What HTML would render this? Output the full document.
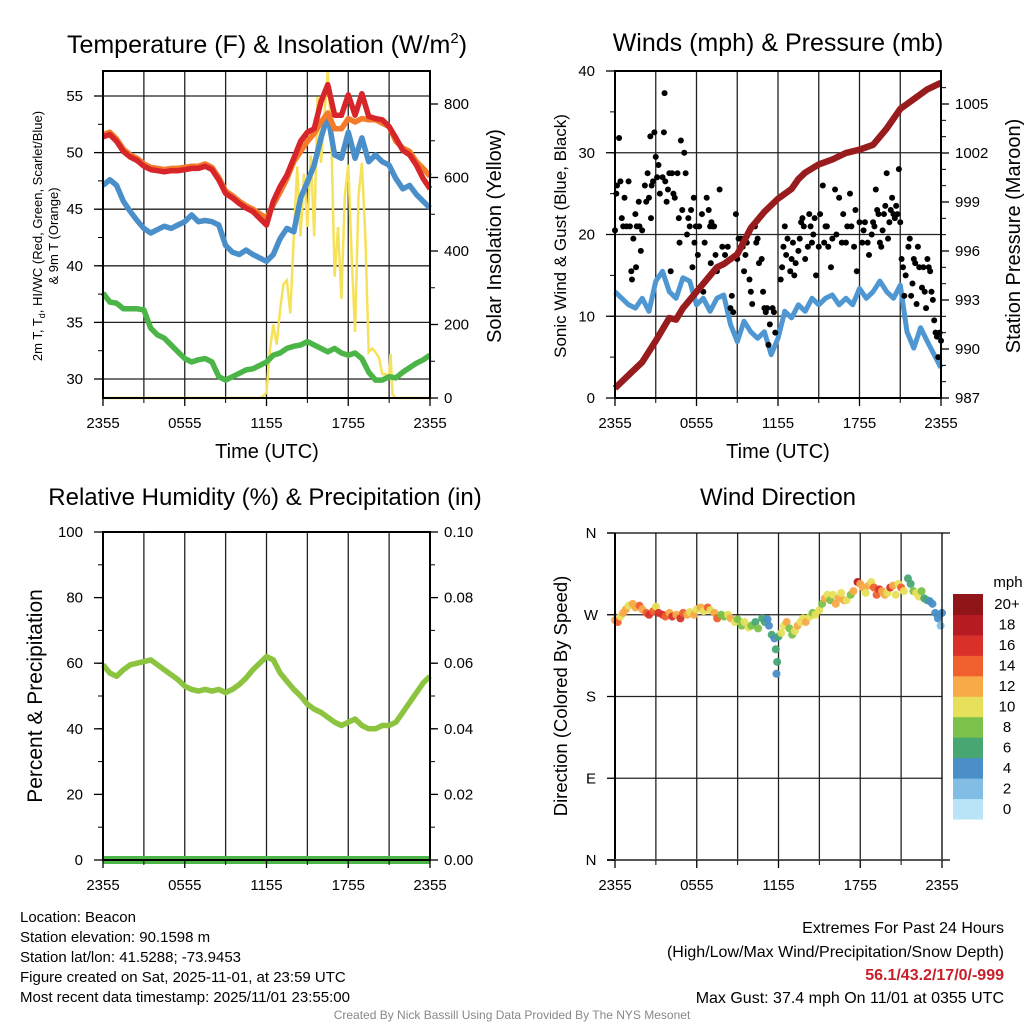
<!DOCTYPE html>
<html><head><meta charset="utf-8">
<style>
body{margin:0;background:#fff;width:1024px;height:1024px;overflow:hidden;font-family:"Liberation Sans",sans-serif;}
svg text{font-family:"Liberation Sans",sans-serif;}
</style></head>
<body>
<svg id="c" width="1024" height="1024" xmlns="http://www.w3.org/2000/svg"></svg>
<script>
// ---- data (30-min resolution, hours 0..24 from 2355 UTC) ----
const tempRed=[51.4,51.6,51,50.1,49.6,49.3,48.8,48.5,48.4,48.3,48.4,48.4,48.5,48.6,48.6,48.8,48.5,47.6,46.4,46,45.5,45.1,44.8,44.2,43.6,45.7,47,48,49.5,51,51.8,52.1,54.5,56,53.3,53.3,55.1,53.3,55.2,53.2,53,52.9,52.3,51.3,50.2,49.8,48.9,47.7,46.8];
const temp9m=[51.6,51.8,51.2,50.3,49.8,49.5,49,48.7,48.6,48.5,48.6,48.6,48.7,48.8,48.8,49,48.7,47.8,46.6,46.2,45.7,45.3,45,44.6,44.2,45.4,46.5,47.7,49.2,50.1,51,51.7,52.7,53.5,52.1,52.1,53,52.7,53,52.9,52.9,52.6,52.3,51,50.4,50.1,49.2,48.6,47.9];
const tempBlue=[47.1,47.6,47.1,45.7,44.8,44,43.3,42.9,43.2,43.5,43.3,43.6,43.9,44.5,43.9,44,43.9,43.6,41.8,41.2,41,41.4,41,40.7,40.4,41,42.4,43.3,43,46,47.4,48.9,51.3,53.3,49.8,49.5,51.8,49.5,51.3,49.2,49.8,49.2,48.9,47.7,46.8,47.1,46.3,45.7,45.1];
const tempGreen=[37.6,36.8,36.7,36.2,36.2,36.2,36.1,34.5,33.9,33.6,33,32.4,31.8,31.5,31.7,31.8,31.5,30.2,29.9,30.2,30.5,30.8,30.9,31.2,31.5,32.1,32.3,32.7,32.9,33,33.3,33,32.7,32.4,32.7,32.3,32.1,32.3,31.8,30.6,29.9,29.9,30.2,30.1,30.6,31,31.4,31.7,32.1];
const solarHours=[0,11.5,11.75,12,12.25,12.5,12.75,13,13.25,13.5,13.75,14,14.25,14.5,14.75,15,15.25,15.5,15.75,16,16.25,16.5,16.75,17,17.25,17.5,17.75,18,18.25,18.5,18.75,19,19.25,19.5,19.75,20,20.25,20.5,20.75,21,21.1,21.25,21.5,24];
const solarVals=[0,0,5,15,130,200,145,240,310,320,230,440,630,440,610,465,660,440,820,640,770,890,725,330,465,270,550,635,380,180,550,640,440,125,135,125,110,65,65,55,120,10,0,0];
const windSonic=[13,12.2,11.4,11,12.2,10.6,14.3,15.5,13,12.2,14.7,14.3,11.4,12.2,10.6,12.2,12.6,9,6.9,9.4,8.1,7.3,8.1,5.3,7.3,10.6,9.8,11.4,10.6,12.2,11.4,12.2,12.6,11.4,12.2,11.4,13.4,12.2,13,14.3,13,12.2,13.8,8.1,6.1,8.6,6.9,5.3,3.7];
const pressHours=[0,1,2,3,4,4.5,5,6,7,7.5,8,9,10,11,12,13,13.5,14,15,16,17,18,19,20,21,22,23,24];
const pressVals=[987.6,988.4,989.2,990.5,991.9,991.8,992.5,993.5,994.5,995,995.2,995.8,997.4,998.4,999.2,999.8,1000.4,1000.8,1001.3,1001.6,1002,1002.2,1002.5,1003.5,1004.7,1005.3,1005.9,1006.3];
const gustHours=[0,0.1,0.15,0.3,0.4,0.5,0.6,0.7,0.85,1,1.1,1.2,1.25,1.35,1.5,1.55,1.6,1.75,1.8,1.9,2,2.2,2.3,2.4,2.5,2.6,2.65,2.7,2.8,2.9,3,3.1,3.2,3.3,3.5,3.6,3.65,3.7,3.8,3.9,4,4.1,4.2,4.3,4.4,4.6,4.7,4.75,4.85,4.95,5.1,5.2,5.3,5.4,5.5,5.6,5.7,5.8,5.85,5.95,6.1,6.2,6.4,6.5,6.6,6.75,6.9,7,7.05,7.1,7.2,7.3,7.4,7.5,7.7,7.9,8.1,8.3,8.5,8.6,8.7,8.9,9,9.1,9.3,9.4,9.5,9.6,9.7,9.9,10,10.1,10.3,10.4,10.5,10.6,10.8,10.9,11,11.1,11.2,11.3,11.4,11.6,11.7,11.8,12.2,12.3,12.4,12.5,12.6,12.7,12.9,13,13.1,13.2,13.3,13.5,13.6,13.7,13.8,13.9,14,14.2,14.3,14.4,14.5,14.6,14.7,14.8,15,15.1,15.3,15.4,15.5,15.6,15.7,15.9,16,16.2,16.3,16.5,16.7,16.8,17,17.1,17.3,17.4,17.6,17.7,17.8,18,18.2,18.3,18.4,18.6,18.7,18.9,19,19.1,19.2,19.3,19.4,19.5,19.6,19.7,19.8,19.9,20,20.1,20.2,20.3,20.4,20.5,20.6,20.7,20.8,20.9,21,21.1,21.2,21.3,21.4,21.6,21.7,21.8,21.9,22,22.1,22.2,22.3,22.4,22.6,22.7,22.8,22.9,23,23.1,23.2,23.3,23.4,23.5,23.6,23.7,23.8,23.9,24];
const gustVals=[20.5,25,26,31.8,26.5,22,21,24.5,21,26.5,21,15.5,14.5,19.5,22.5,16,21,24,21,18,20.5,26,24,27.5,24.5,32,22,26,26.5,32.5,29.5,27,28.5,25,27,32.5,37.3,26.5,24,25.5,27.5,15.5,27.5,25,24.5,27.5,22,19,31.5,23,30,27.5,20,22,21,23,16,24.5,19,21,17.5,21,22.5,13,19,24.5,23,21,16.5,21.5,21,21,17.5,15.5,25.5,18.5,17.5,18.5,11,12.5,10.5,22.5,17,19.5,19.5,18.5,15.5,17.5,19,14.5,13,11.5,21,19,19.5,16.5,17,13,11,10.5,11,6.5,9,11,10.5,8,14.5,16,18.5,21,17.5,19.5,15.5,17,19,15,16.5,18,19.5,21.5,22,21,17,18.5,22.5,21,19,20,22,15,18.5,22.5,26,19,21,21,18.5,16,19.5,25.5,20,24.5,19,22.5,19,21,25,21,18.5,23,15.5,21.5,19,20.5,21.5,19,17.5,20,21.5,21,25.5,23,22.5,19,18.5,20.5,22.5,23.5,27.5,19.5,21.5,23,24.5,22.5,22,23.5,22.5,28,21.5,17,16,12.5,15,18.5,19.5,12.5,14,17,16.5,11.5,18.5,16,13.5,16,13,11,17,16,15.5,13,12,9.5,8,7.5,5,8,7];
const rhVals=[59.5,57,56,58,59.5,60,60.5,61,59.5,58,56.5,55,53,52,51.5,52,51.5,52,51,52,53.5,55.5,58,60,62,61,57,54.5,52,50,47.5,46,45,43.5,42,41,42,43,41,40,40,41,41,42,45,48,51,54,56];
const precipVals=[0,0,0,0,0,0,0,0,0,0,0,0,0,0,0,0,0,0,0,0,0,0,0,0,0,0,0,0,0,0,0,0,0,0,0,0,0,0,0,0,0,0,0,0,0,0,0,0,0];
const dirHours=[0,0.2,0.4,0.6,0.8,1,1.3,1.5,1.8,2,2.3,2.5,2.8,3,3.2,3.5,3.7,4,4.2,4.5,4.8,5,5.3,5.5,5.8,6,6.3,6.5,6.8,7,7.3,7.5,7.8,8,8.3,8.5,8.8,9,9.3,9.5,9.8,10,10.3,10.5,10.8,11,11.2,11.3,11.5,11.7,11.8,11.9,11.85,12,12.2,12.4,12.6,12.8,13,13.2,13.4,13.6,13.8,14,14.3,14.5,14.7,15,15.2,15.4,15.6,15.8,16,16.2,16.4,16.6,16.8,17,17.3,17.5,17.8,18,18.2,18.4,18.6,18.8,19,19.2,19.4,19.6,19.8,20,20.2,20.4,20.6,20.8,21,21.2,21.5,21.7,21.9,22.1,22.3,22.5,22.7,22.9,23.1,23.3,23.5,23.7,23.8,24,23.9];
const dirVals=[264,262,268,272,276,280,282,278,280,276,272,270,274,279,272,270,268,272,268,270,266,272,270,273,270,276,278,274,278,275,272,266,270,268,270,266,262,265,258,262,256,258,262,255,266,262,265,258,248,244,232,218,205,246,250,258,262,255,248,252,258,262,266,262,268,272,270,275,282,288,292,286,292,282,288,294,286,286,292,296,306,304,300,294,302,306,300,292,298,296,292,294,300,302,292,304,300,296,310,304,296,294,290,296,288,286,285,282,272,266,270,272,258];
const dirSpeeds=[12,14,10,12,12,10,12,12,14,12,14,16,14,10,16,16,14,12,16,12,16,14,12,10,12,10,12,10,14,10,12,14,8,8,10,12,10,8,8,10,10,8,6,8,6,6,4,4,6,4,6,6,4,6,10,10,12,8,8,10,12,10,10,12,10,8,10,10,8,12,10,8,10,12,12,10,12,10,8,12,18,12,12,10,12,10,14,14,16,12,12,10,16,12,10,10,14,10,6,6,8,10,10,8,6,6,4,4,4,4,4,4,2];
const speedTicks=["0","2","4","6","8","10","12","14","16","18","20+"];
const speedColors=["#b9e3f7","#82bde5","#4a8fc7","#48a673","#7cc24a","#e6e05a","#f8a948","#f0612e","#d9302a","#b81c23","#8f1519"];
const timeTicks=["2355","0555","1155","1755","2355"];

// ---- helpers ----
const svg=document.getElementById('c');
const NS='http://www.w3.org/2000/svg';
function el(tag,attrs,parent){const e=document.createElementNS(NS,tag);for(const k in attrs)e.setAttribute(k,attrs[k]);(parent||svg).appendChild(e);return e;}
function txt(s,x,y,size,anchor,parent,extra){const t=el('text',Object.assign({x:x,y:y,'font-size':size,'text-anchor':anchor||'middle',fill:'#000'},extra||{}),parent);t.textContent=s;return t;}
function scale(d0,d1,r0,r1){return v=>r0+(v-d0)*(r1-r0)/(d1-d0);}
function halfHours(n){const a=[];for(let i=0;i<n;i++)a.push(i*0.5);return a;}
function pathFrom(xs,ys,sx,sy){return xs.map((x,i)=>(i?'L':'M')+sx(x).toFixed(1)+','+sy(ys[i]).toFixed(1)).join(' ');}

function frame(g,L,T,R,B,vgrid,hgridYs){
  for(let h=3;h<24;h+=3){const x=L+(R-L)*h/24;const l=el('line',{x1:x,y1:T,x2:x,y2:B,stroke:'#222','stroke-width':1.3},g);
  
  }
  hgridYs.forEach(y=>{const l=el('line',{x1:L,y1:y,x2:R,y2:y,stroke:'#222','stroke-width':1.3},g);
  
  });
}
function border(g,L,T,R,B){const r=el('rect',{x:L,y:T,width:R-L,height:B-T,fill:'none',stroke:'#000','stroke-width':2},g);

}
function xAxis(g,L,R,B){
  timeTicks.forEach((s,i)=>{const x=L+(R-L)*i/4;el('line',{x1:x,y1:B,x2:x,y2:B+8,stroke:'#000','stroke-width':1.3},g);
  const t=txt(s,x,B+30,15,'middle',g);});
  for(let h=3;h<24;h+=6){const x=L+(R-L)*h/24;el('line',{x1:x,y1:B,x2:x,y2:B+5,stroke:'#000','stroke-width':1},g);}
}
function leftTicks(g,L,vals,sy,minorStep,lo,hi,labelFmt){
  vals.forEach(v=>{const y=sy(v);el('line',{x1:L-9,y1:y,x2:L,y2:y,stroke:'#000','stroke-width':1.3},g);
  const t=txt(labelFmt?labelFmt(v):String(v),L-20,y+5,15,'end',g);});
  if(minorStep)for(let v=lo;v<=hi+1e-9;v+=minorStep){const y=sy(v);el('line',{x1:L-5,y1:y,x2:L,y2:y,stroke:'#000','stroke-width':1},g);}
}
function rightTicks(g,R,vals,sy,minorStep,lo,hi,labelFmt){
  vals.forEach(v=>{const y=sy(v);el('line',{x1:R,y1:y,x2:R+8,y2:y,stroke:'#000','stroke-width':1.3},g);
  const t=txt(labelFmt?labelFmt(v):String(v),R+14,y+5,15,'start',g);});
  if(minorStep)for(let v=lo;v<=hi+1e-9;v+=minorStep){const y=sy(v);el('line',{x1:R,y1:y,x2:R+5,y2:y,stroke:'#000','stroke-width':1},g);}
}

// ---- Panel 1: Temperature ----
(function(){
  const g=el('g',{});
  const L=103,R=430,T=71,B=398;
  const sx=scale(0,24,L,R), sy=scale(30,55,379,96), sy2=scale(0,800,398,104);
  frame(g,L,T,R,B,true,[40,45,50,55].map(sy).concat([sy(30),sy(35)]));
  const hh=halfHours(49);
  const ys=el('path',{d:pathFrom(solarHours,solarVals,sx,sy2),fill:'none',stroke:'#f6e25a','stroke-width':2.5},g);
  
  [[tempGreen,'#4cb548','dewpoint-line'],[tempBlue,'#4a8fca','hi-wc-line'],[temp9m,'#f47b2a','9m-temperature-line'],[tempRed,'#d7262a','2m-temperature-line']].forEach(([d,c,n])=>{
    const p=el('path',{d:pathFrom(hh,d,sx,sy),fill:'none',stroke:c,'stroke-width':5.5,'stroke-linejoin':'round'},g);
    });
  border(g,L,T,R,B);
  leftTicks(g,L,[30,35,40,45,50,55],sy,2.5,30,55);
  rightTicks(g,R,[0,200,400,600,800],sy2,100,0,800);
  xAxis(g,L,R,B);
  const t1=el('text',{x:267,y:53,'font-size':25,'text-anchor':'middle'},g);t1.innerHTML='Temperature (F) &amp; Insolation (W/m<tspan dy="-10" font-size="15">2</tspan><tspan dy="10">)</tspan>';
  
  const xt=txt('Time (UTC)',267,458,20,'middle',g);
  const yt=el('text',{transform:'translate(42,236) rotate(-90)','font-size':13,'text-anchor':'middle'},g);yt.innerHTML='2m T, T<tspan dy="3" font-size="9">d</tspan><tspan dy="-3">, HI/WC (Red, Green, Scarlet/Blue)</tspan>';
  
  const yt2=el('text',{transform:'translate(58,236) rotate(-90)','font-size':13,'text-anchor':'middle'},g);yt2.textContent='& 9m T (Orange)';
  
  const yr=el('text',{transform:'translate(501,236) rotate(-90)','font-size':20,'text-anchor':'middle'},g);yr.textContent='Solar Insolation (Yellow)';
  
})();

// ---- Panel 2: Winds & Pressure ----
(function(){
  const g=el('g',{});
  const L=615,R=941,T=71,B=398;
  const sx=scale(0,24,L,R), sy=scale(0,40,398,71), sy2=scale(987,1005,398,104);
  frame(g,L,T,R,B,true,[10,20,30].map(sy));
  const hh=halfHours(49);
  const pw=el('path',{d:pathFrom(hh,windSonic,sx,sy),fill:'none',stroke:'#4f97d3','stroke-width':5,'stroke-linejoin':'round'},g);
  
  gustHours.forEach((h,i)=>{const c=el('circle',{cx:sx(h),cy:sy(gustVals[i]),r:3,fill:'#000'},g);
    
    });
  const pp=el('path',{d:pathFrom(pressHours,pressVals,sx,sy2),fill:'none',stroke:'#981b1e','stroke-width':6.5,'stroke-linejoin':'round'},g);
  
  border(g,L,T,R,B);
  leftTicks(g,L,[0,10,20,30,40],sy,5,0,40);
  rightTicks(g,R,[987,990,993,996,999,1002,1005],sy2,1,987,1006);
  xAxis(g,L,R,B);
  const t=txt('Winds (mph) & Pressure (mb)',778,51,25,'middle',g);
  const xt=txt('Time (UTC)',778,458,20,'middle',g);
  const yl=el('text',{transform:'translate(566,236) rotate(-90)','font-size':17,'text-anchor':'middle'},g);yl.textContent='Sonic Wind & Gust (Blue, Black)';
  
  const yr=el('text',{transform:'translate(1020,236) rotate(-90)','font-size':20,'text-anchor':'middle'},g);yr.textContent='Station Pressure (Maroon)';
  
})();

// ---- Panel 3: RH & Precip ----
(function(){
  const g=el('g',{});
  const L=103,R=430,T=532,B=860;
  const sx=scale(0,24,L,R), sy=scale(0,100,860,532), sy2=scale(0,0.1,860,532);
  frame(g,L,T,R,B,true,[]);
  const hh=halfHours(49);
  const pr=el('path',{d:pathFrom(hh,precipVals,sx,sy2),fill:'none',stroke:'#4cb548','stroke-width':8},g);
  
  const rh=el('path',{d:pathFrom(hh,rhVals,sx,sy),fill:'none',stroke:'#8cc43f','stroke-width':5.5,'stroke-linejoin':'round'},g);
  
  border(g,L,T,R,B);
  leftTicks(g,L,[0,20,40,60,80,100],sy,10,0,100);
  rightTicks(g,R,[0,0.02,0.04,0.06,0.08,0.1],sy2,0.01,0,0.1,v=>v.toFixed(2));
  xAxis(g,L,R,B);
  const t=txt('Relative Humidity (%) & Precipitation (in)',265,505,24,'middle',g);
  const yl=el('text',{transform:'translate(42,696) rotate(-90)','font-size':21,'text-anchor':'middle'},g);yl.textContent='Percent & Precipitation';
  
})();

// ---- Panel 4: Wind Direction ----
(function(){
  const g=el('g',{});
  const L=615,R=942,T=533,B=860;
  const sx=scale(0,24,L,R), sy=scale(0,360,860,533);
  frame(g,L,T,R,B,true,[90,180,270].map(sy));
  dirHours.forEach((h,i)=>{const idx=Math.min(10,Math.floor(dirSpeeds[i]/2));
    const c=el('circle',{cx:sx(h),cy:sy(dirVals[i]),r:4,fill:speedColors[idx],opacity:0.95},g);
    
    });
  el('line',{x1:L,y1:T,x2:L,y2:B,stroke:'#000','stroke-width':2},g);
  el('line',{x1:R,y1:T,x2:R,y2:B,stroke:'#000','stroke-width':1.3},g);
  el('line',{x1:L-8,y1:T,x2:R+8,y2:T,stroke:'#000','stroke-width':1.3},g);
  el('line',{x1:L-8,y1:B,x2:R+8,y2:B,stroke:'#555','stroke-width':2},g);
  [['N',0],['E',90],['S',180],['W',270],['N',360]].forEach(([s,v])=>{const y=sy(v);el('line',{x1:L-8,y1:y,x2:L,y2:y,stroke:'#000','stroke-width':1.3},g);
    const t=txt(s,591,y+5,15,'middle',g);});
  xAxis(g,L,R,B);
  const t=txt('Wind Direction',778,505,24,'middle',g);
  const yl=el('text',{transform:'translate(567,696) rotate(-90)','font-size':18.5,'text-anchor':'middle'},g);yl.textContent='Direction (Colored By Speed)';
  
  // colorbar
  const cb=el('g',{},g);
  const top=594,bot=819,h=(bot-top)/11;
  speedColors.forEach((c,i)=>{const y=bot-(i+1)*h;const r=el('rect',{x:953,y:y,width:30,height:h+0.5,fill:c},cb);
    
    
    const tt=txt(speedTicks[i],1007,y+h/2+5,15,'middle',cb);});
  const m=txt('mph',1008,587,15,'middle',cb);
})();

// ---- footer text ----
(function(){
  const g=el('g',{});
  ['Location: Beacon','Station elevation: 90.1598 m','Station lat/lon: 41.5288; -73.9453','Figure created on Sat, 2025-11-01, at 23:59 UTC','Most recent data timestamp: 2025/11/01 23:55:00'].forEach((s,i)=>{
    const t=txt(s,20,922+i*20,15,'start',g);});
  const g2=el('g',{});
  const a=txt('Extremes For Past 24 Hours',1004,933,16,'end',g2);
  const b=txt('(High/Low/Max Wind/Precipitation/Snow Depth)',1004,957,16,'end',g2);
  const c=txt('56.1/43.2/17/0/-999',1004,980,16,'end',g2,{fill:'#c8202a','font-weight':'bold'});
  const d=txt('Max Gust: 37.4 mph On 11/01 at 0355 UTC',1004,1003,16,'end',g2);
  const f=txt('Created By Nick Bassill Using Data Provided By The NYS Mesonet',512,1019,12,'middle',null,{fill:'#888'});
})();
</script>
</body></html>
